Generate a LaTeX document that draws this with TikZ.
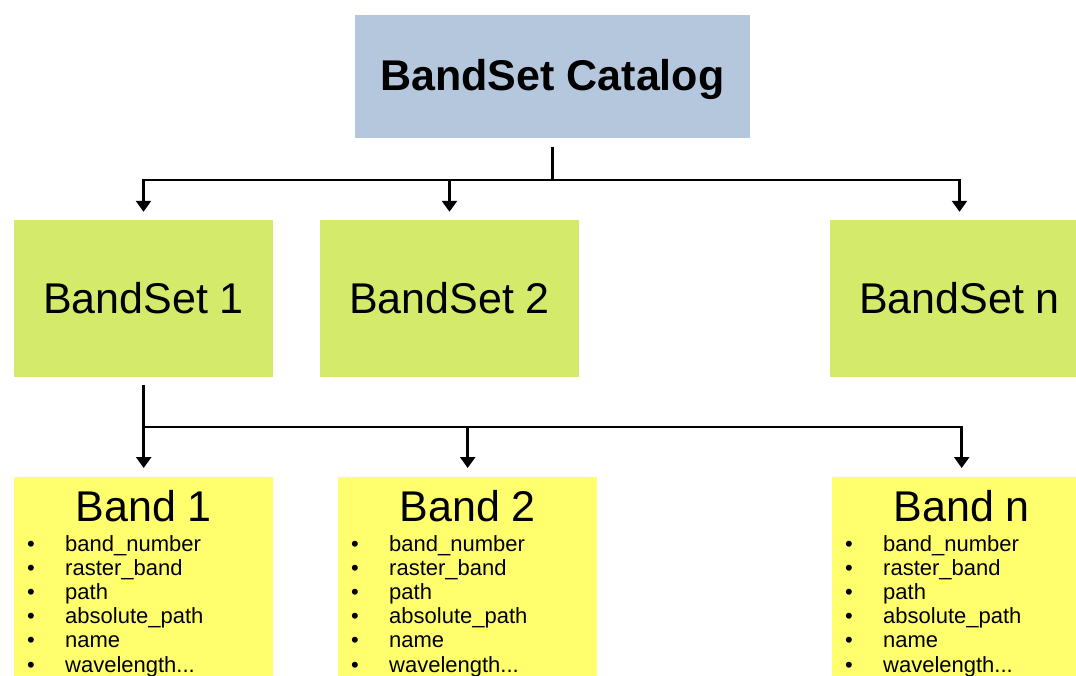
\documentclass[tikz,border=0pt]{standalone}
\usepackage{fontspec}
\setmainfont{Liberation Sans}
\usepackage{tikz}
\usetikzlibrary{arrows.meta}
\definecolor{catblue}{RGB}{180,199,220}
\definecolor{setgreen}{RGB}{212,234,107}
\definecolor{bandyellow}{RGB}{255,255,109}
\tikzstyle{catbox} = [fill=catblue, rectangle, minimum width=395pt, minimum height=123pt,
    inner sep=0pt, font=\fontsize{43}{50}\selectfont\bfseries]
\tikzstyle{setbox} = [fill=setgreen, rectangle, minimum width=259pt, minimum height=157pt,
    inner sep=0pt, font=\fontsize{43}{50}\selectfont]
\tikzstyle{bandbox} = [fill=bandyellow, rectangle, anchor=north west, inner xsep=13pt, inner ysep=13pt]
\tikzstyle{link} = [line width=2.5pt, line cap=rect]
\tikzstyle{stem} = [line width=3.5pt]
\tikzstyle{arrowlink} = [link, -{Triangle[width=15pt,length=11pt]}]

\newcommand{\bandfields}[1]{%
  \begin{minipage}[t][210pt][t]{233pt}
    \centering\fontsize{43}{43}\selectfont #1\par
    \vspace{5.5pt}
    \raggedright\fontsize{22}{24.2}\selectfont
    \makebox[38pt][l]{\textbullet}band\_number\\
    \makebox[38pt][l]{\textbullet}raster\_band\\
    \makebox[38pt][l]{\textbullet}path\\
    \makebox[38pt][l]{\textbullet}absolute\_path\\
    \makebox[38pt][l]{\textbullet}name\\
    \makebox[38pt][l]{\textbullet}wavelength...
  \end{minipage}}

\begin{document}
\begin{tikzpicture}[x=1pt, y=-1pt]
    \useasboundingbox (0,0) rectangle (1076,675);
    \clip (0,0) rectangle (1076,675);
    % catalog and band sets
    \node [catbox, text depth=4pt] (catalog) at (552.5,76.5) {BandSet Catalog};
    \node [setbox] (bs1) at (143.5,298.5) {BandSet 1};
    \node [setbox] (bs2) at (449.5,298.5) {BandSet 2};
    \node [setbox] (bsn) at (959.5,298.5) {BandSet n};
    % bands of the first set
    \node [bandbox] (band1) at (14,477) {\bandfields{Band 1}};
    \node [bandbox] (band2) at (338,477) {\bandfields{Band 2}};
    \node [bandbox] (bandn) at (832,477) {\bandfields{Band n}};

    \coordinate (hub1) at ([yshift=-42pt]catalog.south);
    \draw[stem] ([yshift=-9pt]catalog.south) -- (hub1);
    \draw[link] (bs1.north |- hub1) -- (bsn.north |- hub1);
    \foreach \b in {bs1,bs2,bsn}
        \draw[arrowlink] (\b.north |- hub1) -- ([yshift=8pt]\b.north);

    \coordinate (hub2) at ([yshift=-50pt]bs1.south);
    \draw[stem] ([yshift=-8pt]bs1.south) -- (hub2);
    \draw[link] (hub2) -- (bandn.north |- hub2);
    \foreach \b in {band1,band2,bandn}
        \draw[arrowlink] (\b.north |- hub2) -- ([yshift=9pt]\b.north);
\end{tikzpicture}
\end{document}
